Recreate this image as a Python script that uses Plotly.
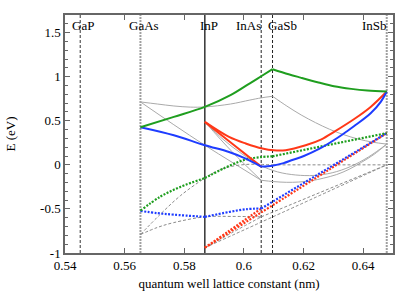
import plotly.graph_objects as go

# ---------------- data ----------------
materials = ["GaP", "GaAs", "InP", "InAs", "GaSb", "InSb"]
lattice_nm = [0.5451, 0.5653, 0.5869, 0.6058, 0.6096, 0.6479]

x_ticks = [0.54, 0.56, 0.58, 0.60, 0.62, 0.64]
x_ticktext = ["0.54", "0.56", "0.58", "0.6", "0.62", "0.64"]
y_ticks = [-1, -0.5, 0, 0.5, 1, 1.5]
y_ticktext = ["-1", "-0.5", "0", "0.5", "1", "1.5"]

# GaAsSb (GaAs -> GaSb), green
gaassb_cb_x = [0.5653, 0.5765, 0.5869, 0.5955, 0.6020, 0.6058, 0.6096]
gaassb_cb_y = [0.427, 0.544, 0.657, 0.790, 0.925, 1.005, 1.085]
gaassb_vb_t_x = [0.5653, 0.5720, 0.5787, 0.5869]
gaassb_vb_t_y = [-0.52, -0.36, -0.25, -0.15]
gaassb_vb_c_x = [0.5869, 0.5955, 0.6011, 0.6058, 0.6096]
gaassb_vb_c_y = [-0.15, -0.005, 0.065, 0.088, 0.097]
gaassb_cb0_x = [0.5653, 0.5710, 0.5765, 0.5820, 0.5869, 0.5955, 0.6020, 0.6058, 0.6096]
gaassb_cb0_y = [0.714, 0.690, 0.668, 0.655, 0.657, 0.690, 0.735, 0.760, 0.778]
gaassb_vb0_x = [0.5653, 0.5720, 0.5787, 0.5869, 0.5910, 0.5955, 0.6010, 0.6058, 0.6096]
gaassb_vb0_y = [-0.79, -0.56, -0.35, -0.15, -0.07, -0.02, 0.005, 0.005, 0.0]

# InGaAs (GaAs -> InAs), blue
ingaas_cb_x = [0.5653, 0.5765, 0.5869, 0.5950, 0.6006, 0.6058]
ingaas_cb_y = [0.427, 0.336, 0.222, 0.146, 0.071, -0.02]
ingaas_vb_t_x = [0.5653, 0.5710, 0.5765, 0.5869]
ingaas_vb_t_y = [-0.523, -0.548, -0.565, -0.59]
ingaas_vb_c_x = [0.5869, 0.5950, 0.6006, 0.6058]
ingaas_vb_c_y = [-0.59, -0.535, -0.504, -0.494]
ingaas_cb0_x = [0.5653, 0.5765, 0.5869, 0.5960, 0.6058]
ingaas_cb0_y = [0.714, 0.455, 0.222, 0.030, -0.175]
ingaas_vb0_x = [0.5653, 0.5710, 0.5765, 0.5869, 0.5960, 0.6058]
ingaas_vb0_y = [-0.79, -0.71, -0.655, -0.59, -0.585, -0.59]

# InAsP (InP -> InAs), red
inasp_cb_x = [0.5869, 0.5961, 0.6058]
inasp_cb_y = [0.487, 0.240, -0.02]
inasp_vb_x = [0.5869, 0.5950, 0.6058]
inasp_vb_y = [-0.94, -0.75, -0.496]
inasp_cb0_x = [0.5869, 0.5960, 0.6058]
inasp_cb0_y = [0.487, 0.150, -0.175]
inasp_vb0_x = [0.5869, 0.5960, 0.6058]
inasp_vb0_y = [-0.94, -0.77, -0.59]

# InPSb (InP -> InSb), red
inpsb_cb_x = [0.5869, 0.5950, 0.6006, 0.6062, 0.6100, 0.6140, 0.6207, 0.6260, 0.6305, 0.6370, 0.6425, 0.6479]
inpsb_cb_y = [0.487, 0.317, 0.242, 0.185, 0.165, 0.166, 0.222, 0.290, 0.380, 0.520, 0.657, 0.832]
inpsb_vb_x = [0.5869, 0.6058, 0.6479]
inpsb_vb_y = [-0.94, -0.54, 0.36]
inpsb_cb0_x = [0.5869, 0.5930, 0.5991, 0.6052, 0.6113, 0.6174, 0.6235, 0.6296, 0.6357, 0.6418, 0.6479]
inpsb_cb0_y = [0.487, 0.290, 0.130, 0.000, -0.080, -0.115, -0.120, -0.090, -0.020, 0.090, 0.235]
inpsb_vb0_x = [0.5869, 0.6058, 0.6479]
inpsb_vb0_y = [-0.94, -0.65, 0.0]

# InAsSb (InAs -> InSb), blue
inassb_cb_x = [0.6058, 0.6095, 0.6133, 0.6162, 0.6201, 0.6252, 0.6313, 0.6341, 0.6370, 0.6425, 0.6459, 0.6479]
inassb_cb_y = [-0.02, -0.01, 0.02, 0.055, 0.100, 0.180, 0.305, 0.370, 0.440, 0.585, 0.715, 0.832]
inassb_vb_x = [0.6058, 0.6479]
inassb_vb_y = [-0.496, 0.36]
inassb_cb0_x = [0.6058, 0.6100, 0.6142, 0.6184, 0.6226, 0.6268, 0.6311, 0.6353, 0.6395, 0.6437, 0.6479]
inassb_cb0_y = [-0.175, -0.190, -0.198, -0.195, -0.180, -0.150, -0.110, -0.050, 0.030, 0.120, 0.235]
inassb_vb0_x = [0.6058, 0.6479]
inassb_vb0_y = [-0.59, 0.0]

# InGaSb (GaSb -> InSb), green
ingasb_cb_x = [0.6096, 0.6150, 0.6190, 0.6250, 0.6302, 0.6360, 0.6414, 0.6479]
ingasb_cb_y = [1.085, 1.028, 0.990, 0.935, 0.892, 0.862, 0.843, 0.832]
ingasb_vb_x = [0.6096, 0.6479]
ingasb_vb_y = [0.097, 0.36]
ingasb_cb0_x = [0.6096, 0.6144, 0.6192, 0.6240, 0.6287, 0.6335, 0.6383, 0.6431, 0.6479]
ingasb_cb0_y = [0.778, 0.667, 0.566, 0.479, 0.404, 0.342, 0.293, 0.258, 0.235]
ingasb_vb0_x = [0.6096, 0.6479]
ingasb_vb0_y = [0.0, 0.0]

# ---------------- styles ----------------
GREEN = "#1f9e1f"
BLUE = "#1e3cff"
RED = "#ff3818"
GRAY_SOLID = "#aaaaaa"
GRAY_DASH = "#8a8a8a"
FONT = "Liberation Serif, Times New Roman, serif"

fig = go.Figure()


def add(x, y, color, width, dash="solid"):
    fig.add_trace(go.Scatter(
        x=x, y=y, mode="lines",
        line=dict(color=color, width=width, dash=dash,
                  shape="spline" if len(x) > 2 else "linear"),
        hoverinfo="skip", showlegend=False))


# unstrained (gray)
for xx, yy in [(gaassb_cb0_x, gaassb_cb0_y), (ingaas_cb0_x, ingaas_cb0_y),
               (inasp_cb0_x, inasp_cb0_y), (inpsb_cb0_x, inpsb_cb0_y),
               (inassb_cb0_x, inassb_cb0_y), (ingasb_cb0_x, ingasb_cb0_y)]:
    add(xx, yy, GRAY_SOLID, 1)
for xx, yy in [(gaassb_vb0_x, gaassb_vb0_y), (ingaas_vb0_x, ingaas_vb0_y),
               (inasp_vb0_x, inasp_vb0_y), (inpsb_vb0_x, inpsb_vb0_y),
               (inassb_vb0_x, inassb_vb0_y), (ingasb_vb0_x, ingasb_vb0_y)]:
    add(xx, yy, GRAY_DASH, 1, "3px,2px")

# strained valence bands (dotted colour)
DOT = "2px,1.5px"
add(inasp_vb_x, inasp_vb_y, RED, 2.2, DOT)
add(inpsb_vb_x, inpsb_vb_y, RED, 2.2, DOT)
add(ingaas_vb_t_x, ingaas_vb_t_y, BLUE, 2.2, DOT)
add(ingaas_vb_c_x, ingaas_vb_c_y, BLUE, 2.2, DOT)
add(inassb_vb_x, inassb_vb_y, BLUE, 2.2, DOT)
add(gaassb_vb_t_x, gaassb_vb_t_y, GREEN, 2.2, DOT)
add(gaassb_vb_c_x, gaassb_vb_c_y, GREEN, 2.2, DOT)
add(ingasb_vb_x, ingasb_vb_y, GREEN, 2.2, DOT)

# strained conduction bands (solid colour)
add(inasp_cb_x, inasp_cb_y, RED, 2)
add(inpsb_cb_x, inpsb_cb_y, RED, 2)
add(ingaas_cb_x, ingaas_cb_y, BLUE, 2)
add(inassb_cb_x, inassb_cb_y, BLUE, 2)
add(gaassb_cb_x, gaassb_cb_y, GREEN, 2)
add(ingasb_cb_x, ingasb_cb_y, GREEN, 2)

# material vertical lines + labels
vstyle = {
    "GaP": dict(color="#333333", width=1, dash="3px,2px"),
    "GaAs": dict(color="#a0a0a0", width=2, dash="2px,1px"),
    "InP": dict(color="#000000", width=1.2, dash="solid"),
    "InAs": dict(color="#222222", width=1, dash="3px,2px"),
    "GaSb": dict(color="#222222", width=1, dash="3px,2px"),
    "InSb": dict(color="#a0a0a0", width=2, dash="2px,1px"),
}
lstyle = {
    "GaP": ("center", 3), "GaAs": ("center", 4), "InP": ("center", 4),
    "InAs": ("right", 2), "GaSb": ("left", -7), "InSb": ("right", 2),
}
for name, a in zip(materials, lattice_nm):
    fig.add_shape(type="line", xref="x", yref="paper", x0=a, x1=a, y0=0, y1=1,
                  line=vstyle[name], layer="below")
    anc, sh = lstyle[name]
    fig.add_annotation(x=a, y=0.957, xref="x", yref="paper", text=name,
                       showarrow=False, xanchor=anc, yanchor="middle", xshift=sh,
                       font=dict(family=FONT, size=13, color="black"))

axis_common = dict(showgrid=False, zeroline=False, showline=True, mirror="ticks",
                   automargin=False,
                   linecolor="#666666", linewidth=1.5, ticks="inside", ticklen=5,
                   tickcolor="#666666", tickwidth=1,
                   tickfont=dict(family=FONT, size=13, color="black"))

fig.update_layout(
    template="none",
    width=415, height=291,
    margin=dict(l=65, r=22, t=15, b=38, pad=0),
    paper_bgcolor="white", plot_bgcolor="white",
    showlegend=False,
    font=dict(family=FONT, size=13, color="black"),
    xaxis=dict(range=[0.54, 0.65], tickvals=x_ticks, ticktext=x_ticktext,
               title=dict(text="quantum well lattice constant (nm)", standoff=8,
                          font=dict(family=FONT, size=13, color="black")),
               **axis_common),
    yaxis=dict(range=[-1, 1.7], tickvals=y_ticks, ticktext=y_ticktext,
               minor=dict(dtick=0.1, ticks="inside", ticklen=3, tickcolor="#666666"),
               title=dict(text="E (eV)", standoff=22,
                          font=dict(family=FONT, size=13, color="black")),
               **axis_common),
)

fig.write_html("out.html", config={"displayModeBar": False},
               post_script="document.body.style.margin='0px';"
                           "document.body.style.padding='0px';")
